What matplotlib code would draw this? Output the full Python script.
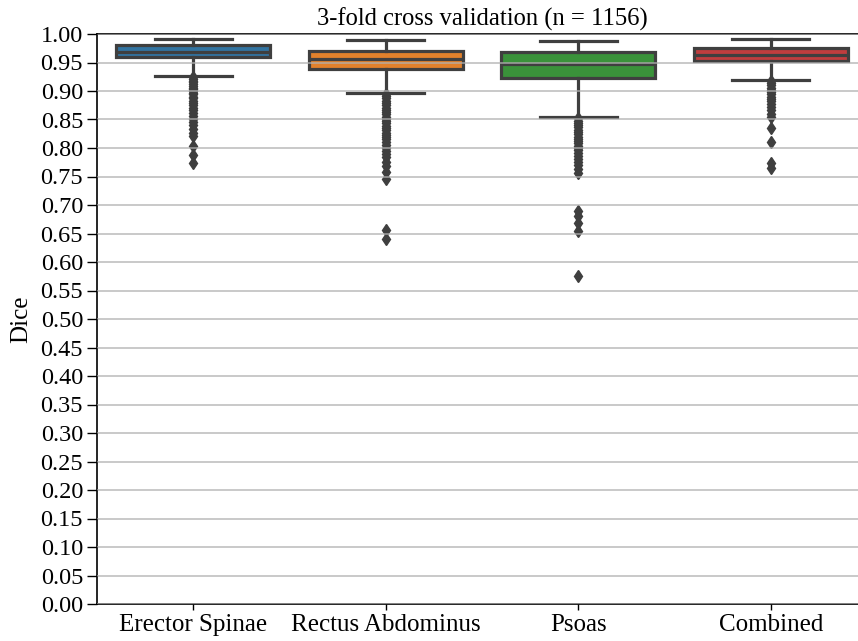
import matplotlib
matplotlib.use("Agg")
import matplotlib.pyplot as plt
import numpy as np

plt.rcParams['font.family'] = ['Liberation Serif', 'DejaVu Serif']

categories = ["Erector Spinae", "Rectus Abdominus", "Psoas", "Combined"]
colors = ["#3274a1", "#e1812c", "#3a923a", "#c03d3e"]

# box summary
whislo = [0.927, 0.897, 0.854, 0.920]
q1 = [0.959, 0.939, 0.922, 0.952]
med = [0.969, 0.957, 0.947, 0.963]
q3 = [0.981, 0.971, 0.968, 0.975]
whishi = [0.991, 0.990, 0.988, 0.991]

fliers_es = [0.925, 0.921, 0.918, 0.915, 0.912, 0.909, 0.906, 0.903, 0.900, 0.897,
             0.894, 0.890, 0.887, 0.883, 0.879, 0.875, 0.871, 0.866, 0.861, 0.856,
             0.851, 0.846, 0.840, 0.834, 0.826, 0.821, 0.803, 0.788, 0.773]
fliers_ra = [0.895, 0.891, 0.887, 0.883, 0.879, 0.875, 0.871, 0.867, 0.863, 0.859,
             0.855, 0.851, 0.847, 0.843, 0.839, 0.835, 0.831, 0.827, 0.823, 0.819,
             0.815, 0.810, 0.805, 0.800, 0.795, 0.790, 0.784, 0.776, 0.768, 0.758,
             0.745, 0.657, 0.640]
fliers_ps = [0.852, 0.848, 0.844, 0.840, 0.836, 0.832, 0.828, 0.824, 0.820, 0.816,
             0.812, 0.808, 0.804, 0.800, 0.796, 0.791, 0.786, 0.781, 0.776, 0.770,
             0.763, 0.757, 0.690, 0.680, 0.668, 0.654, 0.575]
fliers_co = [0.918, 0.914, 0.910, 0.906, 0.902, 0.898, 0.894, 0.890, 0.886, 0.882,
             0.877, 0.872, 0.866, 0.860, 0.855, 0.835, 0.811, 0.774, 0.765]
fliers = [fliers_es, fliers_ra, fliers_ps, fliers_co]

stats = []
for i in range(len(categories)):
    stats.append(dict(label=categories[i], whislo=whislo[i], q1=q1[i], med=med[i],
                      q3=q3[i], whishi=whishi[i], fliers=fliers[i]))

fig = plt.figure(figsize=(8.58, 6.41), dpi=100)
ax = fig.add_axes([97 / 858, 37 / 641, 770 / 858, 570 / 641])

line_c = "#3f3f3f"
lw = 2.3
bp = ax.bxp(stats, positions=range(len(categories)), widths=0.8, capwidths=0.4,
            patch_artist=True, showfliers=True,
            boxprops=dict(edgecolor=line_c, linewidth=lw),
            whiskerprops=dict(color=line_c, linewidth=lw),
            capprops=dict(color=line_c, linewidth=lw),
            medianprops=dict(color=line_c, linewidth=lw),
            flierprops=dict(marker='d', markerfacecolor=line_c, markeredgecolor=line_c,
                            markersize=6, linestyle='none'))
for patch, c in zip(bp['boxes'], colors):
    patch.set_facecolor(c)

ax.set_xlim(-0.5, 3.5)
ax.set_ylim(0, 1.0)
ax.set_yticks(np.arange(0, 1.0001, 0.05))
ax.set_yticklabels([f"{v:.2f}" for v in np.arange(0, 1.0001, 0.05)])
ax.set_xticks(range(len(categories)))
ax.set_xticklabels(categories)
ax.yaxis.grid(True, color="#b0b0b0", linewidth=1.2, alpha=0.8)
ax.set_axisbelow(False)
ax.tick_params(axis='y', labelsize=17.5, length=7, width=1.0, pad=3)
ax.tick_params(axis='x', labelsize=18, length=4.5, width=1.0, pad=3)
for s in ax.spines.values():
    s.set_linewidth(1.2)
ax.set_ylabel("Dice", fontsize=18, labelpad=6)
ax.set_title("3-fold cross validation (n = 1156)", fontsize=17.7, pad=6)

fig.savefig("out.png", dpi=100)
